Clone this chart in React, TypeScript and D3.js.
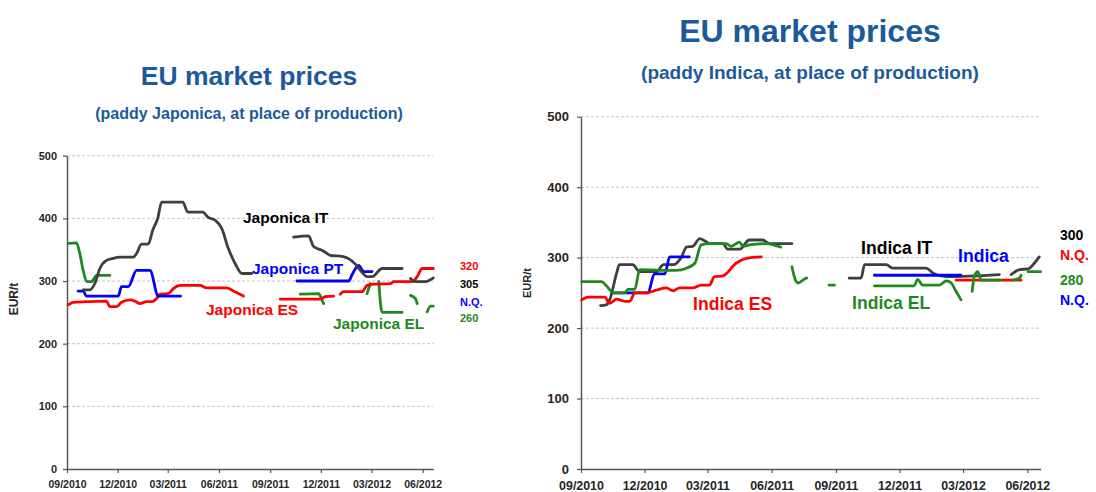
import React, { useRef, useEffect } from "react";
import * as d3 from "d3";

type Pt = [string, number | null];

const START = "2010-09-01";
const END = "2012-06-20";
const quarterTicks = [
  "2010-09-01", "2010-12-01", "2011-03-01", "2011-06-01",
  "2011-09-01", "2011-12-01", "2012-03-01", "2012-06-01",
];
const yTicks = [0, 100, 200, 300, 400, 500];

// ---- Japonica (left chart) ----
const japonicaIT: Pt[] = [
  ["2010-09-30", 286], ["2010-10-12", 286], ["2010-10-21", 296], ["2010-10-30", 320],
  ["2010-11-11", 333], ["2010-11-22", 336], ["2010-12-05", 338], ["2010-12-29", 338],
  ["2011-01-04", 344], ["2011-01-13", 359], ["2011-01-25", 359], ["2011-02-02", 381],
  ["2011-02-11", 400], ["2011-02-18", 426], ["2011-03-28", 426], ["2011-04-06", 410],
  ["2011-05-03", 410], ["2011-05-12", 402], ["2011-05-25", 397], ["2011-06-06", 384],
  ["2011-06-17", 354], ["2011-06-30", 328], ["2011-07-12", 312], ["2011-07-30", 312],
  ["2011-09-01", null],
  ["2011-10-13", 370], ["2011-11-09", 372], ["2011-11-18", 355], ["2011-12-03", 349],
  ["2011-12-12", 344], ["2011-12-18", 341], ["2012-01-10", 339], ["2012-02-01", 327],
  ["2012-02-10", 317], ["2012-02-22", 307], ["2012-03-02", 307], ["2012-03-20", 320],
  ["2012-04-25", 320],
  ["2012-05-01", null],
  ["2012-05-10", 304], ["2012-05-19", 299], ["2012-06-06", 299], ["2012-06-20", 305],
];
const japonicaPT: Pt[] = [
  ["2010-09-21", 284], ["2010-09-30", 284], ["2010-10-06", 276], ["2010-12-02", 276],
  ["2010-12-08", 291], ["2010-12-20", 291], ["2011-01-04", 317], ["2011-01-28", 317],
  ["2011-02-12", 276], ["2011-03-24", 276],
  ["2011-06-01", null],
  ["2011-10-19", 300], ["2012-01-20", 300], ["2012-01-26", 310], ["2012-02-07", 325],
  ["2012-02-16", 315], ["2012-03-02", 315],
];
const japonicaES: Pt[] = [
  ["2010-09-03", 262], ["2010-09-12", 266], ["2010-10-06", 267], ["2010-11-11", 268],
  ["2010-11-17", 259], ["2010-11-29", 259], ["2010-12-08", 266], ["2010-12-23", 270],
  ["2011-01-01", 268], ["2011-01-10", 264], ["2011-01-22", 267], ["2011-01-31", 267],
  ["2011-02-09", 272], ["2011-02-15", 279], ["2011-03-02", 280], ["2011-03-11", 288],
  ["2011-03-24", 293], ["2011-04-28", 293], ["2011-05-10", 289], ["2011-06-15", 289],
  ["2011-06-27", 284], ["2011-07-15", 276],
  ["2011-08-15", null],
  ["2011-09-19", 271], ["2011-11-30", 271], ["2011-12-09", 275], ["2011-12-24", 276],
  ["2011-12-30", null],
  ["2012-01-05", 279], ["2012-01-11", 283], ["2012-02-13", 283], ["2012-02-22", 293],
  ["2012-03-05", 295], ["2012-04-04", 296], ["2012-04-10", 299], ["2012-05-13", 299],
  ["2012-05-22", 307], ["2012-05-31", 320], ["2012-06-20", 320],
];
const japonicaEL: Pt[] = [
  ["2010-09-03", 360], ["2010-09-18", 361], ["2010-09-24", 344], ["2010-09-30", 317],
  ["2010-10-07", 299], ["2010-10-15", 299], ["2010-10-24", 309], ["2010-11-17", 309],
  ["2011-01-01", null],
  ["2011-10-25", 279], ["2011-11-27", 280], ["2011-12-03", 270], ["2011-12-06", 264],
  ["2012-01-01", null],
  ["2012-02-22", 280], ["2012-02-28", 296],
  ["2012-03-05", null],
  ["2012-03-14", 299], ["2012-03-20", 250], ["2012-04-25", 250],
  ["2012-05-01", null],
  ["2012-05-10", 277], ["2012-05-19", 272], ["2012-05-22", 264],
  ["2012-06-01", null],
  ["2012-06-09", 251], ["2012-06-15", 260], ["2012-06-20", 260],
];

// ---- Indica (right chart) ----
const indicaIT: Pt[] = [
  ["2010-09-29", 232], ["2010-10-07", 233], ["2010-10-12", 240], ["2010-10-22", 278],
  ["2010-10-26", 290], ["2010-11-14", 290], ["2010-11-24", 280], ["2010-12-18", 280],
  ["2010-12-28", 290], ["2011-01-11", 290], ["2011-01-23", 301], ["2011-01-30", 315],
  ["2011-02-08", 316], ["2011-02-18", 327], ["2011-02-25", 324], ["2011-03-04", 320],
  ["2011-03-23", 320], ["2011-03-30", 312], ["2011-04-16", 312], ["2011-04-30", 325],
  ["2011-05-19", 325], ["2011-05-29", 320], ["2011-06-30", 320],
  ["2011-08-01", null],
  ["2011-09-20", 271], ["2011-10-07", 271], ["2011-10-12", 290], ["2011-11-12", 290],
  ["2011-11-21", 285], ["2012-01-08", 285], ["2012-01-18", 278], ["2012-02-06", 273],
  ["2012-04-22", 276],
  ["2012-05-01", null],
  ["2012-05-09", 276], ["2012-05-21", 283], ["2012-06-02", 284], ["2012-06-11", 292],
  ["2012-06-18", 301],
];
const indicaPT: Pt[] = [
  ["2010-10-15", 250], ["2010-12-06", 250], ["2010-12-15", 277], ["2010-12-30", 277],
  ["2011-01-06", 301], ["2011-02-03", 301],
  ["2011-06-01", null],
  ["2011-10-26", 275], ["2012-02-27", 275],
];
const indicaES: Pt[] = [
  ["2010-09-02", 240], ["2010-09-11", 244], ["2010-10-05", 244], ["2010-10-12", 235],
  ["2010-10-22", 241], ["2010-11-03", 238], ["2010-11-10", 238], ["2010-11-17", 250],
  ["2010-12-04", 250], ["2010-12-18", 254], ["2011-01-01", 257], ["2011-01-11", 253],
  ["2011-01-20", 257], ["2011-02-08", 257], ["2011-02-20", 261], ["2011-03-04", 261],
  ["2011-03-11", 273], ["2011-03-23", 274], ["2011-04-11", 292], ["2011-04-26", 299],
  ["2011-05-17", 301],
  ["2011-09-01", null],
  ["2012-02-20", 268], ["2012-05-23", 268],
];
const indicaEL: Pt[] = [
  ["2010-09-02", 266], ["2010-09-30", 266], ["2010-10-10", 257], ["2010-10-17", 250],
  ["2010-11-03", 250], ["2010-11-07", 255], ["2010-11-17", 255], ["2010-11-24", 283],
  ["2010-12-23", 282], ["2011-01-15", 282], ["2011-01-30", 285], ["2011-02-11", 292],
  ["2011-02-20", 318], ["2011-03-04", 320], ["2011-03-28", 320], ["2011-04-04", 316],
  ["2011-04-16", 322], ["2011-04-21", 316], ["2011-04-30", 318], ["2011-05-24", 320],
  ["2011-06-07", 317], ["2011-06-14", 315],
  ["2011-06-22", null],
  ["2011-06-30", 287], ["2011-07-05", 268], ["2011-07-09", 264], ["2011-07-17", 269],
  ["2011-07-21", 271],
  ["2011-08-10", null],
  ["2011-08-22", 261], ["2011-08-30", 261],
  ["2011-09-20", null],
  ["2011-10-26", 260], ["2011-12-22", 260], ["2011-12-27", 269], ["2012-01-03", 261],
  ["2012-01-27", 261], ["2012-02-06", 267], ["2012-02-13", 264], ["2012-02-20", 252],
  ["2012-02-27", 240],
  ["2012-03-05", null],
  ["2012-03-14", 252], ["2012-03-17", 273], ["2012-03-22", 280], ["2012-03-27", 268],
  ["2012-04-24", 268],
  ["2012-05-01", null],
  ["2012-05-11", 268], ["2012-05-21", 271], ["2012-05-23", 275],
  ["2012-05-28", null],
  ["2012-06-02", 280], ["2012-06-20", 280],
];

const leftLatest = ["320", "305", "N.Q.", "260"];
const rightLatest = ["300", "N.Q.", "280", "N.Q."];

const BLACK = "#3f3f3f";
const BLUE = "#0000ff";
const RED = "#ff0000";
const GREEN = "#1e8a1e";
const TITLE = "#1c5a9b";
const FONT = "'Liberation Sans', Arial, sans-serif";

interface SeriesDef {
  points: Pt[];
  color: string;
  label: string;
  textColor: string;
  lx: number;
  ly: number;
}

interface PanelDef {
  left: number;
  right: number;
  bottom: number;
  top: number;
  title: string;
  subtitle: string;
  titleX: number;
  titleY: number;
  titleSize: number;
  subY: number;
  subSize: number;
  tickFont: number;
  xTickFont: number;
  yPad: number;
  yLabelX: number;
  yLabelY: number;
  yLabelSize: number;
  labelSize: number;
  series: SeriesDef[];
  latest: string[];
  latestColors: string[];
  latestX: number;
  latestY: number[];
  latestSize: number;
}

const parse = d3.timeParse("%Y-%m-%d");

function drawPanel(svg: d3.Selection<SVGSVGElement, unknown, null, undefined>, p: PanelDef) {
  const g = svg.append("g").style("font-family", FONT);

  const x = d3
    .scaleTime()
    .domain([parse(START)!, parse(END)!])
    .range([p.left, p.right]);
  const y = d3.scaleLinear().domain([0, 500]).range([p.bottom, p.top]);

  // titles
  g.append("text")
    .attr("x", p.titleX)
    .attr("y", p.titleY)
    .attr("text-anchor", "middle")
    .attr("font-size", p.titleSize)
    .attr("font-weight", "bold")
    .attr("fill", TITLE)
    .text(p.title);
  g.append("text")
    .attr("x", p.titleX)
    .attr("y", p.subY)
    .attr("text-anchor", "middle")
    .attr("font-size", p.subSize)
    .attr("font-weight", "bold")
    .attr("fill", TITLE)
    .text(p.subtitle);

  // dashed grid
  g.append("g")
    .selectAll("line")
    .data(yTicks.filter((v) => v > 0))
    .join("line")
    .attr("x1", p.left)
    .attr("x2", p.right)
    .attr("y1", (d) => y(d))
    .attr("y2", (d) => y(d))
    .attr("stroke", "#c4c4c4")
    .attr("stroke-width", 1)
    .attr("stroke-dasharray", "3,2");

  // y axis
  const ya = g
    .append("g")
    .attr("transform", `translate(${p.left},0)`)
    .call(
      d3.axisLeft(y).tickValues(yTicks).tickSize(4).tickSizeOuter(0).tickPadding(p.yPad),
    );
  ya.select(".domain").attr("stroke", "#555").attr("stroke-width", 1.5);
  ya.selectAll(".tick line").attr("stroke", "#555").attr("stroke-width", 1.2);
  ya.selectAll(".tick text")
    .attr("font-size", p.tickFont)
    .attr("font-weight", "bold")
    .attr("font-family", FONT)
    .attr("fill", "#262626");

  // x axis
  const xa = g
    .append("g")
    .attr("transform", `translate(0,${p.bottom})`)
    .call(
      d3
        .axisBottom(x)
        .tickValues(quarterTicks.map((d) => parse(d)!))
        .tickFormat((d) => d3.timeFormat("%m/%Y")(d as Date))
        .tickSize(4)
        .tickSizeOuter(0)
        .tickPadding(8),
    );
  xa.select(".domain").attr("stroke", "#555").attr("stroke-width", 1.5);
  xa.selectAll(".tick line").attr("stroke", "#555").attr("stroke-width", 1.2);
  xa.selectAll(".tick text")
    .attr("font-size", p.xTickFont)
    .attr("font-weight", "bold")
    .attr("font-family", FONT)
    .attr("fill", "#262626");

  // y label
  g.append("text")
    .attr("transform", `translate(${p.yLabelX},${p.yLabelY}) rotate(-90)`)
    .attr("text-anchor", "middle")
    .attr("dy", "0.35em")
    .attr("font-size", p.yLabelSize)
    .attr("font-weight", "bold")
    .attr("fill", "#262626")
    .text("EUR/t");

  // lines (smoothed like the spreadsheet original)
  const line = d3
    .line<Pt>()
    .defined((d) => d[1] !== null)
    .curve(d3.curveMonotoneX)
    .x((d) => x(parse(d[0])!))
    .y((d) => y(d[1] as number));

  g.append("g")
    .selectAll("path")
    .data(p.series)
    .join("path")
    .attr("d", (s) => line(s.points))
    .attr("fill", "none")
    .attr("stroke", (s) => s.color)
    .attr("stroke-width", 2.8)
    .attr("stroke-linejoin", "round")
    .attr("stroke-linecap", "round");

  // series labels
  g.append("g")
    .selectAll("text")
    .data(p.series)
    .join("text")
    .attr("x", (s) => s.lx)
    .attr("y", (s) => s.ly)
    .attr("font-size", p.labelSize)
    .attr("font-weight", "bold")
    .attr("fill", (s) => s.textColor)
    .text((s) => s.label);

  // latest values
  g.append("g")
    .selectAll("text")
    .data(p.latest)
    .join("text")
    .attr("x", p.latestX)
    .attr("y", (_, i) => p.latestY[i])
    .attr("font-size", p.latestSize)
    .attr("font-weight", "bold")
    .attr("fill", (_, i) => p.latestColors[i])
    .text((d) => d);
}

const App: React.FC = () => {
  const svgRef = useRef<SVGSVGElement>(null);

  useEffect(() => {
    if (!svgRef.current) return;
    const svg = d3.select(svgRef.current);
    svg.selectAll("*").remove();

    drawPanel(svg, {
      left: 67,
      right: 433.3,
      bottom: 469,
      top: 155.7,
      title: "EU market prices",
      subtitle: "(paddy Japonica, at place of production)",
      titleX: 249,
      titleY: 85,
      titleSize: 26.5,
      subY: 119,
      subSize: 16,
      tickFont: 11,
      xTickFont: 10.5,
      yPad: 6,
      yLabelX: 14,
      yLabelY: 299,
      yLabelSize: 12,
      labelSize: 15.5,
      series: [
        { points: japonicaEL, color: GREEN, label: "Japonica EL", textColor: GREEN, lx: 333, ly: 329 },
        { points: japonicaES, color: RED, label: "Japonica ES", textColor: RED, lx: 206, ly: 315 },
        { points: japonicaPT, color: BLUE, label: "Japonica PT", textColor: BLUE, lx: 252, ly: 273.5 },
        { points: japonicaIT, color: BLACK, label: "Japonica IT", textColor: "#000", lx: 243, ly: 223 },
      ],
      latest: leftLatest,
      latestColors: [RED, "#000", BLUE, GREEN],
      latestX: 460,
      latestY: [270, 288, 305.5, 321.5],
      latestSize: 11,
    });

    drawPanel(svg, {
      left: 581,
      right: 1040.6,
      bottom: 469,
      top: 116.7,
      title: "EU market prices",
      subtitle: "(paddy Indica, at place of production)",
      titleX: 810,
      titleY: 41.5,
      titleSize: 32,
      subY: 78.5,
      subSize: 19,
      tickFont: 13,
      xTickFont: 12.4,
      yPad: 8,
      yLabelX: 527,
      yLabelY: 283,
      yLabelSize: 11,
      labelSize: 17.6,
      series: [
        { points: indicaIT, color: BLACK, label: "Indica IT", textColor: "#000", lx: 861, ly: 254 },
        { points: indicaPT, color: BLUE, label: "Indica", textColor: BLUE, lx: 958, ly: 262 },
        { points: indicaES, color: RED, label: "Indica ES", textColor: RED, lx: 693, ly: 310 },
        { points: indicaEL, color: GREEN, label: "Indica EL", textColor: GREEN, lx: 852, ly: 309 },
      ],
      latest: rightLatest,
      latestColors: ["#000", RED, GREEN, BLUE],
      latestX: 1060,
      latestY: [240, 259.5, 284.5, 305],
      latestSize: 14,
    });
  }, []);

  return (
    <svg
      ref={svgRef}
      width={1096}
      height={492}
      style={{ position: "absolute", left: 0, top: 0, background: "#fff" }}
    />
  );
};

export default App;
